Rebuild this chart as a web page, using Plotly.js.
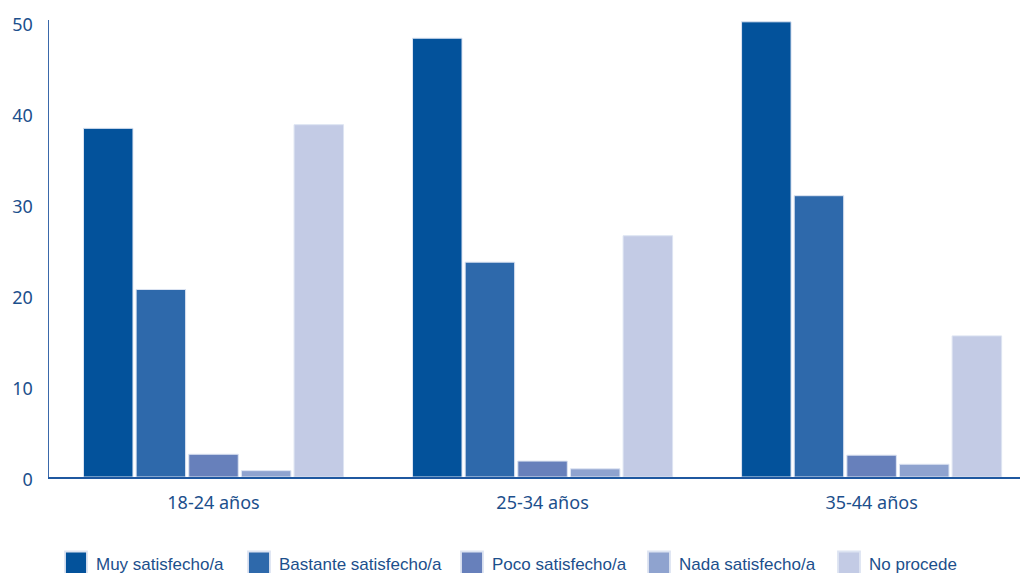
<!DOCTYPE html>
<html><head><meta charset="utf-8">
<script src="https://cdn.plot.ly/plotly-3.0.1.min.js"></script>
<style>html,body{margin:0;padding:0;background:#fff;}#chart{width:1020px;height:573px;}</style>
</head><body><div id="chart"></div>
<script>
var categories = ["18-24 años", "25-34 años", "35-44 años"];
var seriesNames = ["Muy satisfecho/a", "Bastante satisfecho/a", "Poco satisfecho/a", "Nada satisfecho/a", "No procede"];
var muy = [38.3, 48.2, 50.0];
var bastante = [20.6, 23.6, 30.9];
var poco = [2.5, 1.75, 2.4];
var nada = [0.7, 0.9, 1.4];
var noProcede = [38.7, 26.5, 15.5];
var yTickVals = [0, 10, 20, 30, 40, 50];

var seriesValues = [muy, bastante, poco, nada, noProcede];
var colors = ["#03529b", "#2e69ab", "#6780bb", "#8fa3cf", "#c3cbe5"];
var legendIds = ["legend", "legend2", "legend3", "legend4", "legend5"];
var legendX = [56, 239, 452, 639, 829];

var traces = seriesNames.map(function (name, i) {
  return {
    type: "bar", name: name, x: categories, y: seriesValues[i],
    legend: legendIds[i],
    marker: {color: colors[i], line: {color: "#dde4f2", width: 1}},
    hoverinfo: "x+y+name"
  };
});

var layout = {
  width: 1020, height: 573,
  margin: {l: 49, r: 0, t: 20, b: 96, autoexpand: false},
  paper_bgcolor: "#ffffff", plot_bgcolor: "#ffffff",
  barmode: "group", bargap: 0.2, bargroupgap: 0.06,
  font: {family: "Noto Sans, Open Sans, sans-serif", color: "#1c4f8c"},
  xaxis: {
    type: "category", range: [-0.5, 2.451], showgrid: false, zeroline: false,
    showline: true, linecolor: "#1f58a0", linewidth: 2, ticks: "",
    ticklabelstandoff: 8, tickfont: {size: 18, color: "#1c4f8c"}
  },
  yaxis: {
    range: [0, 50.2], showgrid: false, zeroline: false,
    showline: true, linecolor: "#3a68aa", linewidth: 1.5, ticks: "",
    tickvals: yTickVals, ticktext: yTickVals.map(String),
    ticklabelstandoff: 11, ticklabelshift: 3, tickfont: {size: 18, color: "#1c4f8c"}
  },
  showlegend: true
};
legendIds.forEach(function (id, i) {
  layout[id] = {
    orientation: "h", xref: "container", yref: "container",
    x: legendX[i] / 1020, xanchor: "left", y: 0.0157, yanchor: "middle",
    bgcolor: "rgba(0,0,0,0)",
    font: {family: "Liberation Sans, Arial, sans-serif", size: 17, color: "#1c4f8c"},
    itemclick: false, itemdoubleclick: false
  };
});

Plotly.newPlot("chart", traces, layout, {displayModeBar: false, staticPlot: true}).then(function (gd) {
  var pts = gd.querySelectorAll(".legendpoints path");
  pts.forEach(function (p) {
    var t = p.getAttribute("transform") || "";
    p.setAttribute("transform", t + " scale(1.83,2.0)");
  });
});
</script>
</body></html>
